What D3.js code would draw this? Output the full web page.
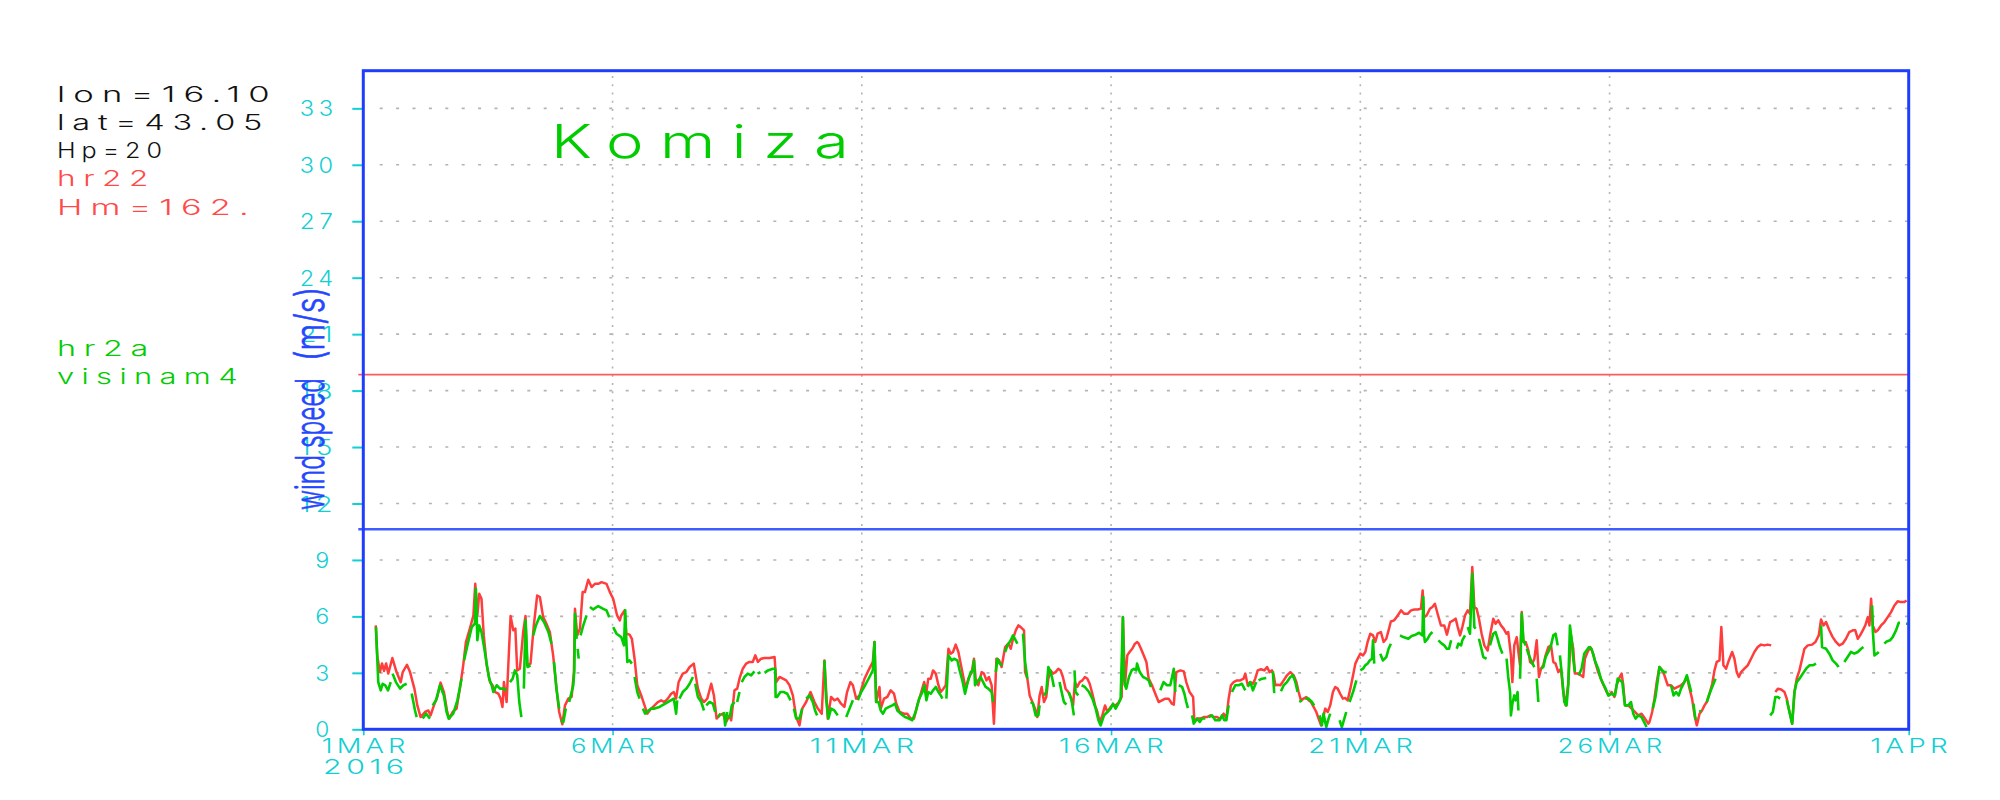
<!DOCTYPE html>
<html>
<head>
<meta charset="utf-8">
<script src="https://cdn.jsdelivr.net/npm/d3@7"></script>
<style>
  html, body { margin: 0; padding: 0; background: #ffffff; }
  svg { display: block; }
  text { font-family: "Inter", "DejaVu Sans", sans-serif; font-weight: 300; }
</style>
</head>
<body>
<svg id="chart" width="2000" height="800"></svg>
<script>
// ---------------- data ----------------
const stationName = "Komiza";
const infoBlack = ["lon=16.10", "lat=43.05", "Hp=20"];
const infoRed = ["hr22", "Hm=162."];
const infoGreen = ["hr2a", "visinam4"];
const yAxisTitleWords = ["wind", "speed", "(m/s)"];
const yTicks = [0, 3, 6, 9, 12, 15, 18, 21, 24, 27, 30, 33];
const xTickHours = [0, 120, 240, 360, 480, 600, 744];
const xTickLabels = ["1MAR", "6MAR", "11MAR", "16MAR", "21MAR", "26MAR", "1APR"];
const yearLabel = "2016";
const redLevel = 18.85;   // constant red reference line
const blueLevel = 10.63;  // constant blue reference line

// hours since 1 MAR 2016 00Z, wind speed (m/s); null = missing
const hr22Series = [
[6,5.52],[6.7,3.93],[8,3.04],[9,3.5],[10,3.1],[11,3.5],[12,2.96],[14,3.79],[16,3.04],[18,2.5],[19,3.04],[21,3.43],[22.5,3.04],[24.6,2.16],[26,1.27],[27.6,0.65],[29.7,0.92],[31.3,1.0],[32.4,0.74],[34,1.27],[35.6,1.72],[37.2,2.48],[38.8,1.98],[40.4,0.92],[41.4,0.57],[43,0.92],[44.9,1.1],[46.5,2.16],[48.1,3.4],[49.4,4.64],[51.3,5.35],[53,6.05],[53.9,7.73],[54.9,6.05],[55.8,7.2],[56.9,6.94],[58,4.99],[59.4,3.4],[61,2.51],[62.2,2.34],[63.5,1.98],[65,1.9],[66.1,1.63],[67,1.19],[67.7,2.51],[69,1.45],[70.9,6.02],[72.2,5.26],[73.2,5.35],[74.1,3.13],[75.4,3.22],[77,5.2],[78.1,6.02],[78.9,3.4],[80.5,3.49],[82.1,5.52],[83.7,7.11],[85,7.03],[86.6,5.96],[88.2,5.6],[89.8,5.17],[91.4,3.93],[93,2.16],[94.3,0.92],[95.8,0.27],[97.1,1.27],[98.7,1.63],[100.3,1.72],[101.4,3.04],[101.9,6.4],[103,4.99],[104.3,5.35],[105.6,7.29],[106.7,7.29],[108.3,7.95],[109.9,7.56],[111.5,7.73],[113.1,7.73],[114.7,7.82],[117.1,7.73],[118.7,7.29],[120.3,6.94],[122.2,6.05],[123.5,5.79],[124.2,6.05],[125.8,6.32],[126.6,5.08],[128.2,5.03],[129.3,4.81],[130.6,3.75],[131.9,2.34],[133.8,1.8],[135.4,1.27],[136.7,0.83],[138.6,1.1],[140.2,1.27],[141.8,1.45],[143.4,1.54],[145,1.45],[146.6,1.63],[148.2,1.89],[149.5,1.98],[150.6,1.63],[151.8,2.51],[153.8,2.96],[155.5,3.04],[157.1,3.31],[159.1,3.49],[161.1,2.16],[162.7,1.63],[164,1.45],[165.6,1.63],[167.5,2.42],[168.8,1.8],[170.1,0.57],[171.5,0.74],[173.1,0.83],[174.7,0.39],[176.3,0.74],[177.1,0.48],[178.7,2.07],[180,2.16],[181.1,2.69],[182.7,3.22],[184.3,3.49],[185.9,3.58],[187.5,3.58],[188.7,3.93],[190,3.58],[191.5,3.75],[193.2,3.79],[195.6,3.79],[198,3.84],[198.8,2.51],[200.4,2.78],[202,2.69],[203.6,2.6],[205.2,2.34],[206.8,1.8],[208.4,0.65],[210,0.21],[211.3,1.1],[213.2,1.45],[215.3,1.98],[217.2,1.45],[218.8,1.1],[220.7,0.83],[222,3.66],[223.6,0.57],[225.2,1.72],[226.8,1.54],[228.4,1.63],[230,1.36],[231.6,1.19],[232.9,1.98],[234.5,2.51],[235.7,2.34],[237.3,1.63],[238.9,1.8],[241.3,2.69],[243.2,3.13],[245.3,3.58],[246.1,4.64],[246.9,1.45],[248.5,2.25],[249.1,1.1],[250.7,1.63],[252.3,1.72],[253.9,2.07],[255.5,1.89],[256.6,1.36],[258.2,0.92],[260.3,0.83],[261.9,0.83],[263.5,0.57],[265.1,0.57],[266.7,1.27],[268.4,1.89],[270,2.51],[271.1,1.98],[272,2.69],[273.2,2.69],[274.3,3.13],[275.6,2.96],[276.9,2.34],[278,1.98],[279.3,2.16],[280.4,2.34],[281.7,4.28],[282.8,4.02],[283.9,4.11],[285.2,4.5],[286.5,4.11],[287.6,3.49],[288.7,2.87],[290,2.16],[291.3,2.69],[292.9,3.04],[294,3.75],[294.8,2.69],[296.1,2.34],[297.7,3.04],[298.8,2.96],[300,2.6],[301.2,2.78],[302.5,2.34],[303.6,0.3],[304.8,3.75],[306.1,3.66],[307.3,3.31],[309,4.37],[310.5,4.55],[311.7,4.28],[312.8,4.81],[314.1,5.26],[315.4,5.52],[316.5,5.43],[318.1,5.26],[318.6,3.04],[319.7,2.69],[320.8,1.8],[322.1,1.45],[323.4,1.1],[324.5,0.65],[325.6,1.8],[326.6,2.25],[327.7,1.45],[328.8,1.72],[329.8,2.69],[330.9,3.13],[332,2.96],[333.3,3.04],[334.6,3.22],[335.7,3.13],[336.8,2.78],[338.1,2.16],[339.4,1.98],[340.5,1.72],[341.7,1.27],[342.6,2.51],[343.7,2.25],[344.9,2.51],[346.2,2.6],[347.4,2.78],[348.6,2.69],[349.7,2.42],[351,1.89],[352.3,1.27],[353.4,0.92],[354.5,0.39],[355.8,0.74],[357.1,1.27],[358.2,0.92],[359.8,1.19],[360.9,1.31],[362.2,1.27],[363.8,1.45],[365.1,1.72],[365.7,5.96],[366.7,2.34],[367.8,3.93],[368.9,4.11],[370.2,4.28],[371.5,4.55],[372.6,4.64],[373.3,4.55],[374.4,4.28],[375.7,3.93],[377,3.58],[378.1,2.69],[379.7,2.34],[381.3,1.89],[382.9,1.45],[384.5,1.54],[386.1,1.63],[387.7,1.63],[389.3,1.36],[390.2,1.31],[391.4,3.04],[393.4,3.13],[395,3.08],[396.2,2.51],[397.8,1.98],[399.5,1.72],[400.1,0.39],[401.4,0.57],[403,0.57],[404.6,0.65],[406.2,0.65],[407.8,0.74],[409.4,0.65],[411,0.65],[412.6,0.57],[414.2,0.83],[415.5,0.57],[416.6,1.63],[417.7,2.34],[419,2.51],[420.6,2.6],[422.2,2.6],[423.8,2.69],[424.6,2.96],[425.8,2.34],[427,2.51],[428.3,2.42],[429.4,2.69],[430.6,3.13],[432.2,3.19],[433.8,3.13],[435.1,3.31],[436.3,3.04],[437.5,3.13],[438.3,2.87],[439.1,2.34],[440.2,2.37],[441.5,2.34],[443.1,2.6],[444.7,2.87],[446.3,3.04],[447.9,2.87],[449.2,2.51],[450.3,1.98],[451.4,1.54],[452.7,1.63],[454,1.72],[455.1,1.54],[456.2,1.45],[457.5,1.19],[458.8,0.92],[459.9,0.57],[461.1,0.21],[462,0.57],[463.1,1.1],[464.3,0.92],[465.5,1.27],[466.8,1.98],[467.9,2.25],[469.1,2.16],[470.3,1.89],[471.6,1.63],[472.8,1.66],[473.9,1.54],[475.2,2.16],[476.5,2.87],[477.6,3.49],[478.7,3.75],[480,4.02],[481.3,3.93],[482.4,4.11],[483.5,4.64],[484.8,5.08],[486.1,4.99],[487.2,4.64],[488.3,5.08],[489.9,5.17],[491.2,4.64],[492.5,4.81],[493.6,5.26],[494.7,5.73],[496.3,5.79],[498,6.05],[499.6,6.32],[501.2,6.14],[502.8,6.14],[504.4,6.32],[506,6.37],[507.6,6.37],[509.2,6.41],[510,7.38],[510.7,5.96],[511.9,6.05],[513.5,6.41],[514.7,6.5],[515.9,6.67],[517.2,6.14],[518.8,5.52],[520.4,5.52],[521.7,5.03],[523.2,5.7],[524.8,5.79],[525.9,5.88],[526.9,5.43],[528,4.99],[529.1,5.43],[530.4,6.05],[531.7,6.32],[532.8,6.14],[533.9,8.62],[534.9,6.5],[536,6.41],[537.1,5.88],[538.4,5.08],[539.7,4.46],[541.3,4.19],[542.6,5.08],[544,5.88],[545.1,5.61],[546.4,5.79],[547.7,5.52],[549,5.35],[550.3,5.08],[551.2,5.17],[552.5,3.93],[553.2,2.51],[554.1,4.46],[555.3,4.9],[556.1,4.11],[556.9,3.4],[557.7,6.23],[558.5,4.64],[559.6,4.64],[560.9,4.19],[561.7,3.58],[562.8,3.49],[563.8,3.75],[564.9,4.73],[566,2.78],[567,3.22],[568.1,3.4],[569.2,3.93],[570.5,4.37],[571.8,4.46],[572.9,3.58],[574,3.49],[575.3,3.04],[576.6,3.22],[577.7,1.98],[578.8,1.27],[580.1,2.42],[581.4,4.99],[582.5,4.28],[583.3,2.96],[584.6,2.96],[586.2,2.87],[587.3,2.78],[588.1,3.75],[589.4,4.11],[590.7,4.37],[592.1,4.02],[593.3,3.49],[594.5,3.04],[595.8,2.69],[597.1,2.34],[598.6,1.98],[599.7,1.8],[601,1.98],[602.3,1.72],[603.4,2.34],[604.5,2.69],[605.8,2.96],[606.6,2.34],[607.4,1.27],[609,1.27],[610.6,1.1],[612.2,0.92],[613.8,0.74],[615.4,0.83],[617,0.57],[618.6,0.3],[619.2,0.39],[620.5,0.92],[621.6,1.63],[622.7,2.51],[624,3.31],[625.3,3.13],[626.4,2.87],[628,2.34],[629.6,2.34],[631.2,2.16],[632.8,2.25],[634.4,2.34],[636,2.51],[637.2,2.78],[638.5,2.16],[639.7,1.63],[640.9,0.74],[642,0.21],[643.3,0.83],[644.5,1.0],[645.7,1.27],[646.8,1.45],[648.1,1.89],[649.4,2.42],[650.5,3.13],[651.6,3.58],[652.9,3.66],[653.8,5.43],[654.8,3.4],[656.1,3.22],[657.4,3.66],[659,4.11],[660.1,3.75],[661.2,3.04],[662.2,2.78],[663.3,3.04],[664.9,3.22],[666.5,3.4],[668.1,3.75],[669.7,4.11],[671.3,4.37],[672.9,4.5],[674.5,4.46],[676.1,4.5],[677.8,4.46],null,[679.8,1.98],[681,2.16],[682.6,2.12],[684.2,1.98],[685.3,1.63],[686.6,0.92],[687.9,0.3],[689,1.98],[690.1,2.69],[691.4,3.13],[692.7,3.75],[693.8,4.28],[695.4,4.46],[697.5,4.5],[699.1,4.64],[700.7,4.99],[701.8,5.84],[703,5.52],[704.2,5.7],[705.8,5.26],[707.4,4.9],[709,4.64],[710.6,4.46],[712.2,4.55],[713.8,4.81],[715.4,5.17],[717.1,5.26],[718.3,5.26],[719.5,4.81],[720.6,4.99],[721.9,5.26],[723.1,5.52],[724.3,5.96],[725.1,5.52],[725.9,6.94],[726.7,5.52],[728,5.17],[729.1,5.26],[730.7,5.52],[732.3,5.7],[733.9,5.96],[735.5,6.23],[737.1,6.58],[738.7,6.8],[740.3,6.76],[741.9,6.76],[743,6.85]
];

const hr2aSeries = [
[6.1,5.43],[7.2,2.51],[8.4,2.07],[9.3,2.42],[10.6,2.34],[11.9,2.07],[13.2,2.51],null,[14.1,2.96],[15.7,2.51],[17.7,2.16],[19.3,2.34],[20.9,2.42],null,[23.3,1.9],[24.9,1.0],[25.7,0.65],null,[28.6,0.57],[30.2,0.83],[32.1,0.57],null,[33.4,1.27],[35,1.54],[36.9,2.34],[38.8,1.8],[40.1,0.92],[41.1,0.57],[43.3,0.83],[45.3,1.54],[47.3,2.69],null,[48.5,3.66],[50.1,4.46],[52.2,5.43],[53.7,5.61],[54.2,7.47],[54.9,4.73],[55.8,5.52],[56.9,5.17],[58,4.46],[59.4,3.49],[60.6,2.69],[61.8,2.34],[62.6,1.98],[64.2,2.34],[65.8,2.16],[67.4,2.16],[69,2.07],null,[70.6,2.51],[71.9,2.69],[73,3.13],[74.1,2.87],[75.1,1.45],[76.1,0.65],null,[77.3,2.16],[78.1,5.79],[79.1,3.31],[80.5,3.4],null,[81.8,4.99],[83.1,5.52],[85,6.02],[87,5.7],[89.1,5.17],[90.6,4.55],null,[91.8,3.58],[93,2.16],[94.3,1.1],null,[95.1,0.48],[96.3,0.39],[97.5,1.1],null,[99.1,1.45],[101.1,2.34],[101.6,3.13],[101.9,6.14],[102.7,4.81],null,[103.2,4.28],[103.7,3.75],null,[104.6,4.99],[105.9,5.52],[107.5,6.05],null,[109.1,6.5],[110.7,6.37],[113.1,6.55],[115.5,6.4],[117.1,6.32],[118.4,5.96],null,[120.3,5.43],[121.9,5.08],[124.2,4.9],[125.5,4.46],[126.1,6.32],[126.6,4.81],[127.1,3.58],[128.2,3.66],[129.3,3.49],null,[130.6,2.78],[131.9,1.98],[133,1.63],null,[134.6,1.1],[135.7,0.83],[137.3,1.0],[138.6,1.1],[140.2,1.1],[142.6,1.19],[146.6,1.45],[149.5,1.63],[150.6,0.83],[151.1,1.54],null,[152.2,1.63],[153.8,1.98],[155.5,2.16],[157.1,2.42],[158.7,2.78],null,[159.8,2.42],[161.1,1.72],[162.7,1.45],[164,1.0],null,[165.1,1.27],[166.7,1.45],[168.3,1.36],[169.4,0.92],null,[170.7,0.65],[172,0.83],null,[173.6,0.92],[174.2,0.21],[175.2,0.92],null,[176.3,0.57],[177.4,1.27],[178.7,1.45],null,[180,1.45],[181.1,1.98],null,[182.2,2.51],[183.5,2.78],[185.1,2.96],[186.7,2.87],[188.3,3.08],null,[190,2.96],[191.2,3.04],null,[193.2,3.0],[194.8,3.13],[197.2,3.22],[198.3,3.22],[198.5,1.72],[199.2,1.72],[200.8,1.98],[202.5,1.98],[204.1,1.89],[205.7,1.54],null,[207.3,1.1],[208.4,0.57],[210,0.57],[211.3,1.1],null,[213.2,1.63],[214.8,1.8],[216.4,1.45],[217.5,1.0],[218.5,0.74],null,[222,3.66],[222.8,1.63],[223.9,0.57],[225.2,1.1],[226.8,1.0],[228.4,0.74],null,[232.5,0.65],[234.1,1.1],[235.7,1.54],null,[238.1,1.54],[239.7,1.98],[241.6,2.34],[243.7,2.78],[245.3,3.13],[246.1,4.64],[246.9,1.45],[248,1.45],[249.1,1.0],[250.2,0.83],[251.5,1.1],[253.1,1.19],[254.7,1.27],[256,1.36],[257.1,1.0],[258.7,0.83],[260.8,0.65],[262.7,0.57],[264.3,0.48],[265.9,0.92],[267.6,1.63],[269.2,1.98],[270.1,2.34],[271.1,1.54],[272,1.98],[273.2,1.89],[274.3,2.07],[275.6,2.25],[276.9,1.98],[278,1.8],[278.8,1.63],null,[280.7,1.63],[281.7,3.93],[283.3,3.66],[284.4,3.75],[286,3.66],[287.1,3.13],[288.4,2.6],[289.7,1.89],[290.8,2.42],[292.4,3.04],[293.5,3.13],[294,3.66],[294.5,2.34],[295.6,2.51],[297.2,2.78],[298.4,2.51],[299.6,2.25],[300.9,2.16],[302.5,1.98],[303.2,1.45],null,[304.5,3.04],[305.3,3.75],[306.4,3.49],[307.7,3.4],null,[309,4.11],[310.1,4.46],[311.7,4.73],[312.8,4.99],[313.7,4.81],[314.9,4.55],null,[317.6,5.08],[318.6,3.58],[319.7,2.69],null,[321.3,1.45],[322.4,1.36],[323.7,0.74],[325,0.74],[325.6,1.27],null,[327.7,1.8],[328.8,1.98],[329.8,3.31],[330.9,3.04],[331.7,2.69],[332.5,2.25],null,[335.2,2.51],[336.2,1.98],[337.3,1.45],[338.5,1.31],null,[339.7,1.98],[341,1.54],[342.1,0.74],null,[342.4,3.13],[342.9,1.98],[344.2,1.8],null,[345.8,2.34],[347.4,2.25],[349.4,1.98],[351,1.63],[352.6,1.1],[353.9,0.48],[355,0.21],[356.6,0.74],[358.2,0.92],[359.8,1.1],[360.9,1.36],[362.2,1.1],[363.5,1.36],[364.6,1.63],[365.7,5.96],[366.2,2.69],[366.7,2.34],[367.3,2.16],[368.6,2.78],[369.9,3.13],[371,3.22],[372.1,3.13],[372.5,3.49],[373.8,3.04],[375.4,2.78],[377,2.69],[378.1,2.6],[379.2,2.25],null,[383.7,2.07],[385.3,2.51],[386.9,2.34],[388.5,2.34],[390.2,3.22],[390.9,1.98],null,[392.6,2.34],[394.2,2.25],[395.3,1.89],[396.2,1.45],[397,1.13],null,[399,0.74],[399.8,0.3],[401.4,0.57],[402.7,0.39],[403.8,0.57],[405.4,0.57],null,[407,0.65],[408.6,0.74],[410.2,0.48],[412.3,0.48],[413.4,0.74],[414.5,0.48],[415.5,0.48],[416.6,1.27],null,[418.2,1.98],[419.8,2.34],[421.4,2.34],[423,2.42],[424.6,2.07],null,[425.8,2.25],[427,2.51],[428.3,2.07],[429.9,2.51],null,[431,2.6],[432.7,2.69],[434.7,2.73],null,[437.9,3.08],[438.5,1.98],[439.1,1.98],null,[441.8,2.02],[443.1,2.34],[444.7,2.51],[446.3,2.78],[447.6,2.87],[448.7,2.51],[449.8,1.98],null,[450.6,1.45],[451.9,1.54],null,[453.5,1.63],[455.1,1.63],[456.7,1.45],[457.8,1.27],null,[460.4,0.74],[461.5,0.21],[462.3,0.83],[463.6,0.12],[464.7,0.57],[465.5,0.83],null,[470,0.48],[471.1,0.12],[472.3,0.57],[473.2,0.92],null,[474.8,1.45],[476.5,1.98],[478.1,2.6],null,[480,3.13],[481.3,3.22],[482.4,3.4],[483.5,3.49],[484.5,3.66],[485.6,3.75],[486.1,4.73],[486.7,3.49],null,[489.6,4.02],[490.9,3.66],[492.5,3.84],[493.6,4.28],[494.7,4.55],null,[499.1,4.99],[500.7,4.9],[503.1,4.81],[504.7,4.96],[506.6,5.03],[508.3,5.13],[509.9,4.99],[510.3,7.03],[510.7,4.99],[511.1,4.64],[512.4,4.81],[513.5,5.03],[514.7,5.17],null,[517.6,4.73],[519.2,4.55],[520.4,4.46],[521.6,4.28],[522.7,4.28],[523.7,4.73],null,[526.4,4.28],[527.2,4.55],[528.5,4.46],[529.1,4.73],[530.4,4.99],null,[531.7,5.43],[532.8,5.08],[533.9,8.27],[534.9,5.43],[535.5,5.35],null,[537.1,4.81],[538.1,4.37],[539.2,3.84],[540.8,3.75],null,[542.4,4.46],[544,5.08],[545.1,5.17],[546.1,4.81],[547.2,4.37],[548.4,4.02],null,[550.4,3.75],[551.2,2.78],[552.1,1.98],[552.5,0.74],[553.2,1.36],[554.1,1.8],[554.8,1.54],[555.7,1.98],[556.1,1.0],null,[556.9,2.69],[557.7,6.14],[558.5,4.73],[559.6,4.46],null,[560.1,4.28],[561.2,3.93],[562.5,3.58],[563.8,3.31],null,[564.9,2.69],[565.7,1.45],null,[567,3.22],[568.1,3.31],[569.2,3.84],[570.5,4.11],[571.8,4.46],[572.9,4.99],[574,5.08],[575,4.46],null,[576.1,3.93],[577.2,2.69],[578.2,1.45],[579.3,1.27],[580.1,2.34],[580.9,5.52],[581.7,4.81],[582.5,3.75],[583.3,3.04],null,[585.2,2.87],[586.5,3.22],[587.8,4.02],[588.9,4.19],[590.1,4.37],[591.3,4.28],[592.9,3.66],[594.5,3.22],[595.8,2.69],[596.9,2.42],[598.1,2.16],[599.4,1.8],[601,1.89],[602.6,1.8],[603.9,2.69],[605,2.6],[606.1,2.51],[607.4,1.27],[609,1.27],[610.3,1.45],[611.4,0.83],[612.5,0.57],[613.8,0.74],[615.4,0.65],[617,0.3],[617.8,0.12],null,[620.8,1.1],[622.1,1.72],[623.2,2.6],[624,3.31],[625.3,3.13],[626.4,3.04],[627.5,3.04],null,[629.6,2.34],[630.8,1.8],[632,1.98],[633.3,1.8],[634.4,2.16],[636,2.51],[637.2,2.87],[638.1,2.51],[639.3,1.98],null,[640.4,1.36],[641.3,0.57],[642,0.57],null,[643.3,0.92],[644,1.0],null,[646.8,1.45],[648.1,1.89],[649.4,2.25],[651,2.69],null,[677.3,0.74],[678.6,0.92],[679.8,1.72],[681,1.72],[682.1,1.63],null,[685.3,1.54],[686.6,0.92],[687.9,0.3],[689,1.98],[690.1,2.51],[691.4,2.69],[693,2.96],[694.6,3.22],[696.2,3.4],[697.8,3.4],[699.4,3.49],null,[701.8,5.52],[702.3,4.37],[704.2,4.28],[705.8,4.02],[707.4,3.66],[709,3.49],[710.3,3.31],null,[713,3.58],[714.6,3.84],[716.2,4.11],[717.8,4.02],[719.5,4.11],[721.1,4.28],[722.2,4.37],null,[726.4,6.58],[726.7,5.3],[727.5,3.93],[728.6,4.02],[729.6,4.11],null,[732.3,4.55],[733.4,4.67],[735,4.73],[736.3,4.9],[737.9,5.26],[739.2,5.66],[739.8,5.66],null,[742.7,5.61],[743.5,5.61]
];

// ---------------- layout ----------------
const svg = d3.select("#chart");
const plot = { left: 363.3, right: 1908.7, top: 70.7, bottom: 729.3 };
const x = d3.scaleLinear().domain([0, 744]).range([plot.left, plot.right]);
const y = d3.scaleLinear().domain([0, 35]).range([plot.bottom, plot.top]);

const CYAN = "#12cfd2";
const BLUE = "#1f3dff";
const RED = "#ff3d3d";
const GREEN = "#00cc00";

// Hershey-like look: thin glyphs stretched wide so the visible ink spans `len`
function hershey(sel, size, len, spacing) {
  const sp = (spacing == null ? 3 : spacing);
  sel.attr("font-family", "Inter, 'DejaVu Sans', sans-serif")
     .attr("font-weight", 300)
     .attr("font-size", size)
     .style("letter-spacing", sp + "px")
     .attr("textLength", len + sp * 1.2)
     .attr("lengthAdjust", "spacingAndGlyphs");
  return sel;
}

svg.append("rect").attr("width", 2000).attr("height", 800).attr("fill", "#fff");

// grid (dotted)
const grid = svg.append("g");
grid.selectAll("line.h").data(yTicks.filter(v => v > 0)).enter().append("line")
  .attr("x1", plot.left + 16.4).attr("x2", plot.right)
  .attr("y1", d => y(d)).attr("y2", d => y(d))
  .attr("stroke", "#b4b4b4").attr("stroke-width", 1.6)
  .attr("stroke-dasharray", "3 13.4");
grid.selectAll("line.v").data(xTickHours.slice(1, -1)).enter().append("line")
  .attr("x1", d => x(d)).attr("x2", d => x(d))
  .attr("y1", plot.bottom - 4).attr("y2", plot.top)
  .attr("stroke", "#b4b4b4").attr("stroke-width", 1.6)
  .attr("stroke-dasharray", "2 6.3");

// constant reference lines
svg.append("line").attr("x1", plot.left - 5).attr("x2", plot.right)
  .attr("y1", y(redLevel)).attr("y2", y(redLevel))
  .attr("stroke", "#ff5a5a").attr("stroke-width", 1.6);
svg.append("line").attr("x1", plot.left - 5).attr("x2", plot.right)
  .attr("y1", y(blueLevel)).attr("y2", y(blueLevel))
  .attr("stroke", "#3f5cff").attr("stroke-width", 2.4);

// series
const line = d3.line().defined(d => d !== null).x(d => x(d[0])).y(d => y(d[1]));
svg.append("path").datum(hr22Series).attr("d", line)
  .attr("fill", "none").attr("stroke", RED).attr("stroke-width", 2.5).attr("stroke-linejoin", "round");
svg.append("path").datum(hr2aSeries).attr("d", line)
  .attr("fill", "none").attr("stroke", GREEN).attr("stroke-width", 2.6).attr("stroke-linejoin", "round");

// y axis ticks + labels
const yAxis = d3.axisLeft(y).tickValues(yTicks).tickSize(11).tickSizeOuter(0).tickPadding(0).tickFormat(d3.format("d"));
const gy = svg.append("g").attr("transform", `translate(${plot.left},0)`).call(yAxis);
gy.select(".domain").remove();
gy.selectAll(".tick line").attr("stroke", CYAN).attr("stroke-width", 2);
gy.selectAll(".tick text").each(function(d) {
  const s = String(d);
  const t = d3.select(this).attr("dy", "0.36em").attr("fill", CYAN).attr("text-anchor", "start");
  if (s.length > 1) { t.attr("x", -63.5); hershey(t, 21, 33, 4); }
  else { t.attr("x", -48); hershey(t, 21, 14, 0); }
});

// x axis ticks + labels
const xAxis = d3.axisBottom(x).tickValues(xTickHours).tickSize(6).tickSizeOuter(0).tickPadding(0)
  .tickFormat((d, i) => xTickLabels[i]);
const gx = svg.append("g").attr("transform", `translate(0,${plot.bottom})`).call(xAxis);
gx.select(".domain").remove();
gx.selectAll(".tick line").attr("stroke", CYAN).attr("stroke-width", 1.6);
gx.selectAll(".tick text").each(function(d, i) {
  const s = xTickLabels[i];
  const w = s.length === 5 ? 105 : (s === "1APR" ? 78 : 84);
  const t = d3.select(this).attr("y", 23.5).attr("dy", 0).attr("fill", CYAN)
    .attr("text-anchor", "start").attr("x", -w / 2);
  hershey(t, 20, w, 3);
});
hershey(svg.append("text").text(yearLabel).attr("x", 323).attr("y", 774).attr("fill", CYAN), 20, 82, 3);

// plot frame
svg.append("rect")
  .attr("x", plot.left).attr("y", plot.top)
  .attr("width", plot.right - plot.left).attr("height", plot.bottom - plot.top)
  .attr("fill", "none").attr("stroke", BLUE).attr("stroke-width", 3);

// y axis title (condensed, rotated), pieces centred along the axis
const titleSpans = [
  { c: 482.5, len: 55 },
  { c: 413, len: 70 },
  { c: 324, len: 74 }
];
yAxisTitleWords.forEach((w, i) => {
  svg.append("text").text(w)
    .attr("transform", `translate(324,${titleSpans[i].c}) rotate(-90)`)
    .attr("text-anchor", "middle")
    .attr("fill", "#2446ff").attr("stroke", "#2446ff").attr("stroke-width", 0.7)
    .attr("font-size", 40)
    .attr("font-family", "'DejaVu Sans', sans-serif").attr("font-weight", 400)
    .attr("textLength", titleSpans[i].len).attr("lengthAdjust", "spacingAndGlyphs");
});

// station title
hershey(svg.append("text").text(stationName).attr("x", 551).attr("y", 158).attr("fill", GREEN), 46, 300, 12);

// info block
const infoWidths = { "lon=16.10": 215, "lat=43.05": 207, "Hp=20": 105, "hr22": 93, "Hm=162.": 194, "hr2a": 93, "visinam4": 182 };
function infoLine(txt, color, baseline) {
  hershey(svg.append("text").text(txt).attr("x", 57).attr("y", baseline).attr("fill", color), 21, infoWidths[txt], 5);
}
infoBlack.forEach((t, i) => infoLine(t, "#111111", 101.7 + i * 28.2));
infoRed.forEach((t, i) => infoLine(t, "#ff4a4a", 186.3 + i * 28.2));
infoGreen.forEach((t, i) => infoLine(t, "#00cc00", 356 + i * 27.5));
</script>
</body>
</html>
